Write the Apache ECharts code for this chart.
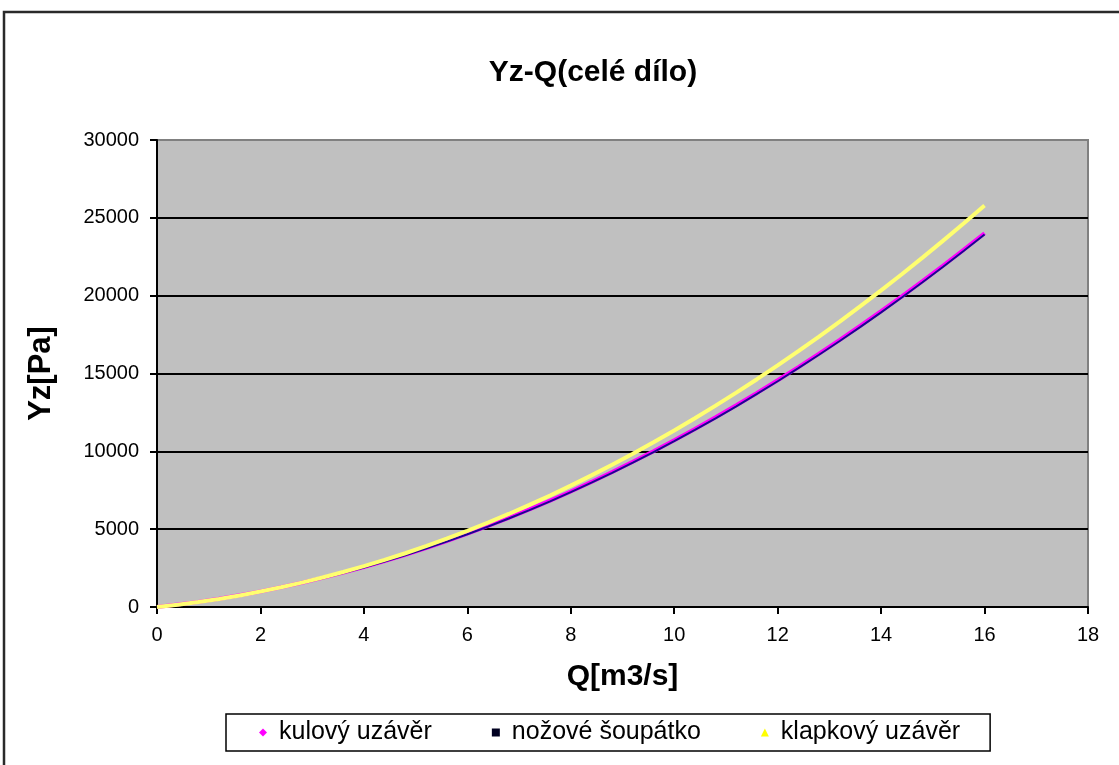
<!DOCTYPE html>
<html>
<head>
<meta charset="utf-8">
<script src="https://cdn.jsdelivr.net/npm/echarts@6/dist/echarts.min.js"></script>
<style>
  html, body { margin: 0; padding: 0; background: #ffffff; }
  #chart { width: 1119px; height: 765px; }
</style>
</head>
<body>
<div id="chart"></div>
<script>
// Flow rate Q [m3/s]
const qValues = [0, 0.4, 0.8, 1.2, 1.6, 2.0, 2.4, 2.8, 3.2, 3.6, 4.0, 4.4, 4.8, 5.2, 5.6, 6.0,
  6.4, 6.8, 7.2, 7.6, 8.0, 8.4, 8.8, 9.2, 9.6, 10.0, 10.4, 10.8, 11.2, 11.6, 12.0,
  12.4, 12.8, 13.2, 13.6, 14.0, 14.4, 14.8, 15.2, 15.6, 16.0];

// Loss Yz [Pa] of the whole system for each valve type
const kulovy = [0, 154, 330, 529, 751, 996, 1264, 1555, 1869, 2206, 2566, 2948, 3354, 3782, 4233,
  4708, 5205, 5725, 6268, 6834, 7422, 8034, 8669, 9326, 10007, 10710, 11436, 12185, 12958,
  13753, 14570, 15411, 16275, 17162, 18071, 19004, 19959, 20937, 21939, 22963, 24010];
const nozove = [0, 148, 322, 519, 739, 982, 1248, 1537, 1849, 2184, 2541, 2921, 3325, 3751, 4200,
  4672, 5167, 5685, 6225, 6789, 7375, 7985, 8617, 9272, 9951, 10652, 11376, 12123, 12893,
  13686, 14502, 15341, 16203, 17088, 17996, 18927, 19881, 20858, 21859, 22882, 23928];
const klapkovy = [0, 148, 321, 519, 743, 993, 1268, 1568, 1895, 2246, 2623, 3026, 3454, 3908, 4387,
  4891, 5421, 5977, 6558, 7165, 7797, 8454, 9138, 9846, 10580, 11340, 12125, 12936, 13772,
  14634, 15521, 16434, 17372, 18335, 19325, 20339, 21379, 22445, 23536, 24653, 25795];

const seriesNames = ['kulový uzávěr', 'nožové šoupátko', 'klapkový uzávěr'];
const titleText = 'Yz-Q(celé dílo)';
const xAxisName = 'Q[m3/s]';
const yAxisName = 'Yz[Pa]';

const FONT = "'Liberation Sans', Arial, sans-serif";

function pairs(ys) {
  return qValues.map((q, i) => [q, ys[i]]);
}

const chart = echarts.init(document.getElementById('chart'), null, { renderer: 'canvas' });

chart.setOption({
  animation: false,
  backgroundColor: '#ffffff',
  graphic: [{
    type: 'rect',
    z: -10,
    shape: { x: 4, y: 12, width: 1200, height: 800 },
    style: { fill: 'none', stroke: '#2a2a2a', lineWidth: 2.5 }
  }],
  title: {
    text: titleText,
    left: 588,
    top: 53,
    textAlign: 'center',
    textStyle: { fontFamily: FONT, fontSize: 30, fontWeight: 'bold', color: '#000' }
  },
  grid: {
    left: 157, top: 140, right: 31, bottom: 158,
    show: true,
    backgroundColor: '#c0c0c0',
    borderColor: '#808080',
    borderWidth: 2
  },
  xAxis: {
    type: 'value',
    min: 0, max: 18, interval: 2,
    name: xAxisName,
    nameLocation: 'middle',
    nameGap: 55,
    nameTextStyle: { fontFamily: FONT, fontSize: 30, fontWeight: 'bold', color: '#000' },
    axisLine: { onZero: false, lineStyle: { color: '#000', width: 2 } },
    axisTick: { show: true, length: 7, lineStyle: { color: '#000', width: 2 } },
    axisLabel: { margin: 18, fontFamily: FONT, fontSize: 20, color: '#000', formatter: (v) => String(v) },
    splitLine: { show: false }
  },
  yAxis: {
    type: 'value',
    min: 0, max: 30000, interval: 5000,
    name: yAxisName,
    nameLocation: 'middle',
    nameGap: 100,
    nameRotate: 90,
    nameTextStyle: { fontFamily: FONT, fontSize: 31, fontWeight: 'bold', color: '#000' },
    axisLine: { show: true, onZero: false, lineStyle: { color: '#000', width: 2 } },
    axisTick: { show: true, length: 7, lineStyle: { color: '#000', width: 2 } },
    axisLabel: { margin: 18, fontFamily: FONT, fontSize: 20, color: '#000', formatter: (v) => String(v) },
    splitLine: {
      show: true,
      lineStyle: { color: ['#000', '#000', '#000', '#000', '#000', '#000', '#808080'], width: 2 }
    }
  },
  legend: {
    left: 226,
    top: 714,
    orient: 'horizontal',
    padding: [6, 30, 6, 33],
    itemGap: 60,
    itemWidth: 8,
    itemHeight: 8,
    borderColor: '#000',
    borderWidth: 1.5,
    backgroundColor: '#fff',
    textStyle: { fontFamily: FONT, fontSize: 25, color: '#000', padding: [0, 0, 0, 7] },
    data: [
      { name: seriesNames[0], icon: 'diamond', itemStyle: { color: '#ff00ff' } },
      { name: seriesNames[1], icon: 'rect', itemStyle: { color: '#000020' } },
      { name: seriesNames[2], icon: 'triangle', itemStyle: { color: '#ffff00' } }
    ]
  },
  series: [
    {
      name: seriesNames[0],
      type: 'line',
      data: pairs(kulovy),
      showSymbol: false,
      symbol: 'diamond',
      color: '#ff00ff',
      lineStyle: { color: '#ff00ff', width: 4 },
      z: 3
    },
    {
      name: seriesNames[1],
      type: 'line',
      data: pairs(nozove),
      showSymbol: false,
      symbol: 'rect',
      color: '#000080',
      lineStyle: { color: '#1a0a90', width: 2 },
      z: 4
    },
    {
      name: seriesNames[2],
      type: 'line',
      data: pairs(klapkovy),
      showSymbol: false,
      symbol: 'triangle',
      color: '#ffff66',
      lineStyle: { color: '#ffff70', width: 4 },
      z: 5
    }
  ]
});
</script>
</body>
</html>
